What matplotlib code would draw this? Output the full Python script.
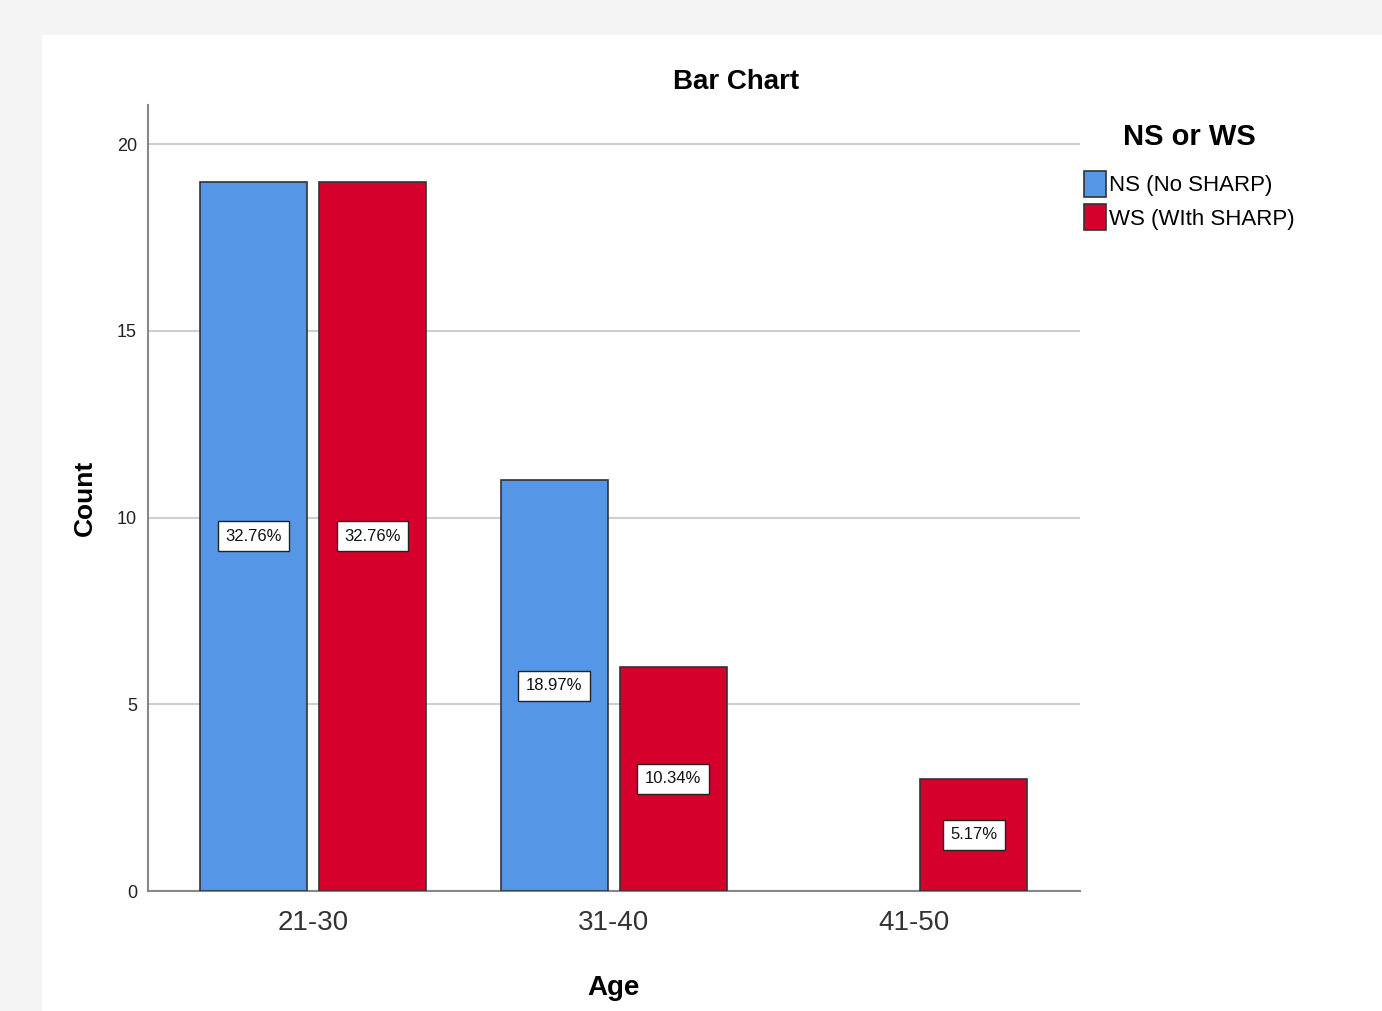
import numpy as np
import matplotlib.pyplot as plt
from matplotlib.patches import Rectangle

# data
age_groups = ['21-30', '31-40', '41-50']
ns_counts = [19, 11, 0]
ws_counts = [19, 6, 3]
ns_pct = ['32.76%', '18.97%', '']
ws_pct = ['32.76%', '10.34%', '5.17%']
series_names = ['NS (No SHARP)', 'WS (WIth SHARP)']

plt.rcParams['font.family'] = ['Liberation Sans', 'DejaVu Sans']

blue = '#5596e6'
red = '#d6002d'
W, H = 1382, 1011

fig = plt.figure(figsize=(W / 100, H / 100), dpi=100)
fig.patch.set_facecolor('#f4f4f4')
# white panel like the spss output window
fig.add_artist(Rectangle((42 / W, 0), 1 - 42 / W, 1 - 35 / H,
                         transform=fig.transFigure, facecolor='white',
                         edgecolor='none', zorder=0))

ax = fig.add_axes([148 / W, 1 - 891 / H, (1080 - 148) / W, (891 - 105) / H])
ax.set_facecolor('white')

x = np.arange(len(age_groups))
w = 0.356
off = 0.198
box = dict(boxstyle='square,pad=0.45', facecolor='white', edgecolor='#222222', linewidth=1)

handles = []
for counts, pcts, col, sign, name in [(ns_counts, ns_pct, blue, -1, series_names[0]),
                                      (ws_counts, ws_pct, red, 1, series_names[1])]:
    xs = x + sign * off
    keep = [i for i, c in enumerate(counts) if c > 0]
    b = ax.bar(xs[keep], [counts[i] for i in keep], w, color=col, edgecolor='#333333',
               linewidth=1.2, label=name, zorder=3)
    handles.append(b)
    for i in keep:
        ax.text(xs[i], counts[i] / 2, pcts[i], ha='center', va='center', fontsize=12,
                color='#111111', bbox=box, zorder=4)

ax.set_xlim(-0.549, 2.552)
ax.set_ylim(0, 21.05)
ax.set_yticks([0, 5, 10, 15, 20])
ax.set_xticks(x)
ax.set_xticklabels(age_groups, fontsize=20, color='#333333')
ax.tick_params(axis='y', labelsize=13, length=0, pad=8, labelcolor='#222222')
ax.tick_params(axis='x', length=0, pad=14)
ax.yaxis.grid(True, color='#cfcfcf', linewidth=1.5, zorder=0)
ax.set_axisbelow(True)

for s in ['top', 'right']:
    ax.spines[s].set_visible(False)
for s in ['left', 'bottom']:
    ax.spines[s].set_color('#888888')
    ax.spines[s].set_linewidth(1.5)

ax.set_xlabel('Age', fontsize=20, fontweight='bold', labelpad=28)
ax.set_ylabel('Count', fontsize=19, fontweight='bold', labelpad=14)
fig.text(736 / W, 1 - 82 / H, 'Bar Chart', fontsize=20, fontweight='bold',
         ha='center', va='center')

leg = fig.legend(handles=handles, loc='upper left',
                 bbox_to_anchor=(1080 / W, 1 - 119 / H), frameon=False,
                 title='NS or WS', fontsize=16, title_fontsize=21,
                 handlelength=0.95, handleheight=1.4, handletextpad=0.15,
                 labelspacing=0.35, borderaxespad=0, borderpad=0.2)
leg.get_title().set_fontweight('bold')
leg._legend_box.align = 'center'
leg._legend_box.sep = 14

fig.savefig('out.png', dpi=100, facecolor=fig.get_facecolor())
